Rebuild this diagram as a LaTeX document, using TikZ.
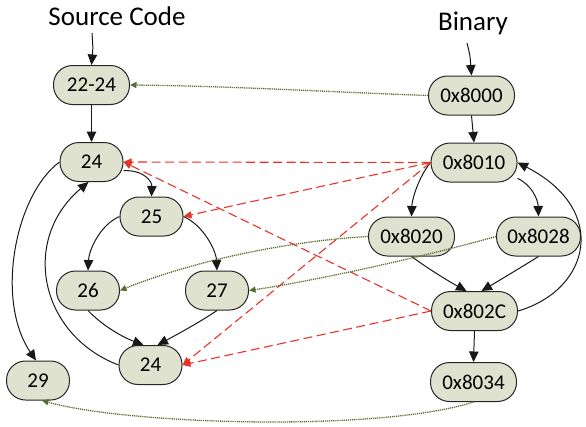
\documentclass[tikz,border=0pt]{standalone}
\usepackage{fontspec}
\setmainfont{Carlito}
\usetikzlibrary{arrows.meta}
\definecolor{nodefill}{RGB}{222,226,206}
\definecolor{mapgreen}{RGB}{88,110,46}
\definecolor{flowred}{RGB}{232,52,40}
\begin{document}
\begin{tikzpicture}[x=1pt,y=-1pt,
  blk/.style={draw=black!85, line width=1pt, fill=nodefill, rounded corners=19pt,
    minimum height=39pt, minimum width=63pt, inner sep=0pt, font=\fontsize{21}{25}\selectfont},
  hex/.style={blk, minimum width=86pt},
  lbl/.style={anchor=base, font=\fontsize{27}{32}\selectfont, inner sep=0pt},
  flow/.style={-{Triangle[length=10.5pt,width=9.5pt]}, line width=1pt, black!90},
  redmap/.style={-{Triangle[length=8pt,width=7pt]}, line width=1.1pt, flowred, dash pattern=on 9pt off 4.5pt},
  greenmap/.style={-{Triangle[length=6.5pt,width=6pt]}, line width=1.3pt, mapgreen, dash pattern=on 1.2pt off 0.9pt}
]
\useasboundingbox (0,0) rectangle (586,426);

% labels
\node[lbl] (src) at (117,25) {Source Code};
\node[lbl] (bin) at (473,30) {Binary};
\coordinate (s0) at (92,33);
\coordinate (b0) at (467,43);

% source nodes
\node[blk, minimum width=76pt] (a2224) at (91.5,85) {22-24};
\node[blk] (t24) at (91.5,162) {24};
\node[blk] (n25) at (151.5,216.5) {25};
\node[blk] (n26) at (88,290.5) {26};
\node[blk] (n27) at (217,290.5) {27};
\node[blk] (b24) at (150.5,365) {24};
\node[blk] (n29) at (38,380.5) {29};

% binary nodes
\node[hex] (h8000) at (471.5,95.5) {0x8000};
\node[hex] (h8010) at (474,162.5) {0x8010};
\node[hex] (h8020) at (411.5,236.5) {0x8020};
\node[hex, minimum width=84pt] (h8028) at (538.5,236.5) {0x8028};
\node[hex] (h802C) at (474.5,311) {0x802C};
\node[hex] (h8034) at (473.5,382) {0x8034};

% source control flow
\draw[flow] (s0) .. controls (93,48) .. (a2224.north);
\draw[flow] (a2224.south) -- (t24.north);
\draw[flow] (t24.-15) .. controls (145,170) and (152,182) .. (n25.north);
\draw[flow] (t24.west) .. controls (15,195) and (-5,300) .. ([xshift=-2pt]n29.north);
\draw[flow] (n25.west) .. controls (100,225) and (89,250) .. (n26.north);
\draw[flow] (n25.east) .. controls (203,225) and (216,250) .. (n27.north);
\draw[flow] (n26.south) .. controls (105,328) and (125,338) .. ([xshift=-7pt]b24.north);
\draw[flow] (n27.south) .. controls (200,322) and (178,334) .. ([xshift=7pt]b24.north);
\draw[flow] (b24.west) .. controls (40,335) and (20,240) .. ([xshift=-3pt]t24.south);

% binary control flow
\draw[flow] (b0) .. controls (470,55) .. (h8000.north);
\draw[flow] (h8000.south) -- (h8010.north);
\draw[flow] (h8010.west) .. controls (418,178) and (412,200) .. (h8020.north);
\draw[flow] (h8010.-20) .. controls (532,185) and (538,200) .. (h8028.north);
\draw[flow] (h802C.east) .. controls (590,290) and (610,210) .. (h8010.east);
\draw[flow] (h8020.south) .. controls (430,270) and (450,282) .. ([xshift=-8pt]h802C.north);
\draw[flow] (h8028.south) .. controls (520,268) and (500,280) .. ([xshift=7pt]h802C.north);
\draw[flow] (h802C.south) -- (h8034.north);

% red dashed mappings
\draw[redmap] (h8010.west) -- (t24.east);
\draw[redmap] (h8010.west) -- (n25.east);
\draw[redmap] (h8010.west) -- (b24.east);
\draw[redmap] (h802C.west) -- (t24.east);
\draw[redmap] (h802C.west) -- (b24.east);

% green dotted mappings
\draw[greenmap] (h8000.west) .. controls (330,92) and (230,86) .. (a2224.east);
\draw[greenmap] (h8020.west) .. controls (300,240) and (200,258) .. (n26.east);
\draw[greenmap] (h8028.west) .. controls (430,255) and (320,280) .. (n27.east);
\draw[greenmap] (h8034.south) .. controls (380,432) and (130,425) .. ([xshift=4pt]n29.south);
\end{tikzpicture}
\end{document}
